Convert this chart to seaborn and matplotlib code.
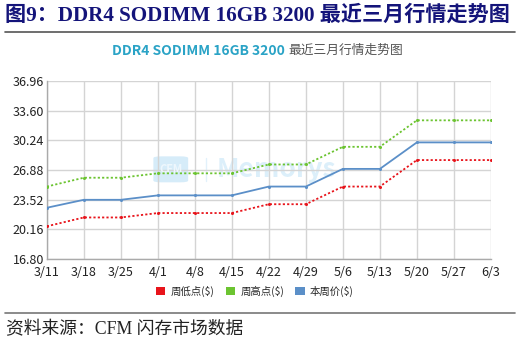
import matplotlib
matplotlib.use("Agg")
import matplotlib.pyplot as plt
from matplotlib.patches import Patch, FancyBboxPatch
import seaborn as sns
import pandas as pd

dates = ["3/11", "3/18", "3/25", "4/1", "4/8", "4/15", "4/22", "4/29",
         "5/6", "5/13", "5/20", "5/27", "6/3"]
week_low = [20.5, 21.5, 21.5, 22.0, 22.0, 22.0, 23.0, 23.0, 25.0, 25.0, 28.0, 28.0, 28.0]
week_high = [25.0, 26.0, 26.0, 26.5, 26.5, 26.5, 27.5, 27.5, 29.5, 29.5, 32.5, 32.5, 32.5]
week_price = [22.6, 23.5, 23.5, 24.0, 24.0, 24.0, 25.0, 25.0, 27.0, 27.0, 30.0, 30.0, 30.0]
yticks = [16.80, 20.16, 23.52, 26.88, 30.24, 33.60, 36.96]

series_names = ["周低点($)", "周高点($)", "本周价($)"]
colors = {"周低点($)": "#e8141b", "周高点($)": "#6cc431", "本周价($)": "#5b8fc8"}

sns.set_theme(style="whitegrid")
plt.rcParams["font.family"] = ["Noto Sans CJK SC", "DejaVu Sans"]
serif_cjk = ["Liberation Serif", "Noto Sans CJK SC"]

df = pd.concat([
    pd.DataFrame({"x": range(len(dates)), "value": vals, "series": name})
    for name, vals in zip(series_names, [week_low, week_high, week_price])
])

fig = plt.figure(figsize=(5.2, 3.43), dpi=100)
ax = fig.add_axes([0.090, 0.245, 0.854, 0.519])

# Faint watermark behind the lines
ax.add_patch(FancyBboxPatch((2.9, 25.5), 0.9, 2.9, boxstyle="round,pad=0.02,rounding_size=0.2",
                            facecolor="#d6ecf9", edgecolor="none", zorder=0.5))
ax.text(3.35, 26.95, "CFM", ha="center", va="center", fontsize=8, color="#eef7fd",
        fontweight="bold", zorder=0.6)
ax.plot([4.3, 4.3], [25.6, 28.2], color="#e2f1fb", linewidth=1, zorder=0.5)
ax.text(4.6, 26.9, "Memorys", ha="left", va="center", fontsize=19, color="#dceffa",
        fontstyle="italic", fontweight="bold", zorder=0.5)

for name in series_names:
    sub = df[df["series"] == name]
    sns.lineplot(data=sub, x="x", y="value", ax=ax, color=colors[name],
                 linestyle="-" if name == "本周价($)" else (0, (1.2, 1.2)),
                 linewidth=1.3, marker="o", markersize=2.2, markeredgewidth=0,
                 legend=False, zorder=3)

ax.set_xlim(0, len(dates) - 1)
ax.set_ylim(yticks[0], yticks[-1])
ax.set_xticks(range(len(dates)))
ax.set_xticklabels(dates)
ax.set_yticks(yticks)
ax.set_yticklabels([f"{v:.2f}" for v in yticks])
ax.set_xlabel("")
ax.set_ylabel("")
ax.tick_params(axis="both", labelsize=9, colors="#222222", length=0)
ax.tick_params(axis="x", pad=5)
ax.tick_params(axis="y", pad=2)
ax.grid(True, color="#d4d4d4", linewidth=1)
for side in ["top", "right"]:
    ax.spines[side].set_visible(False)
for side in ["left", "bottom"]:
    ax.spines[side].set_color("#aaaaaa")
    ax.spines[side].set_linewidth(1)

# Header
fig.text(0.010, 0.955, "图9：DDR4 SODIMM 16GB 3200 最近三月行情走势图", fontsize=15.2,
         fontweight="bold", color="#14147a", ha="left", va="center", family=serif_cjk)
fig.add_artist(plt.Line2D([0.01, 0.99], [0.907, 0.907], color="#555555", linewidth=1.2))

# Inner chart title: teal model name followed by grey description
t1 = fig.text(0.215, 0.852, "DDR4 SODIMM 16GB 3200", fontsize=10, fontweight="bold",
              color="#2aa3c6", ha="left", va="center")
fig.canvas.draw()
bb = t1.get_window_extent(renderer=fig.canvas.get_renderer())
fig.text(bb.x1 / fig.bbox.width + 0.008, 0.852, "最近三月行情走势图", fontsize=9.2,
         color="#555555", ha="left", va="center")

handles = [Patch(facecolor=colors[n], edgecolor="none") for n in series_names]
fig.legend(handles, series_names, loc="center", bbox_to_anchor=(0.49, 0.151), ncol=3,
           frameon=False, fontsize=7.5, handlelength=0.9, handleheight=0.9,
           handletextpad=0.5, columnspacing=1.1)

fig.add_artist(plt.Line2D([0.01, 0.99], [0.088, 0.088], color="#777777", linewidth=1.2))
fig.text(0.012, 0.040, "资料来源：CFM 闪存市场数据", fontsize=12.8, color="#222222",
         ha="left", va="center", family=serif_cjk)

fig.savefig("out.png", dpi=100, facecolor="white")
